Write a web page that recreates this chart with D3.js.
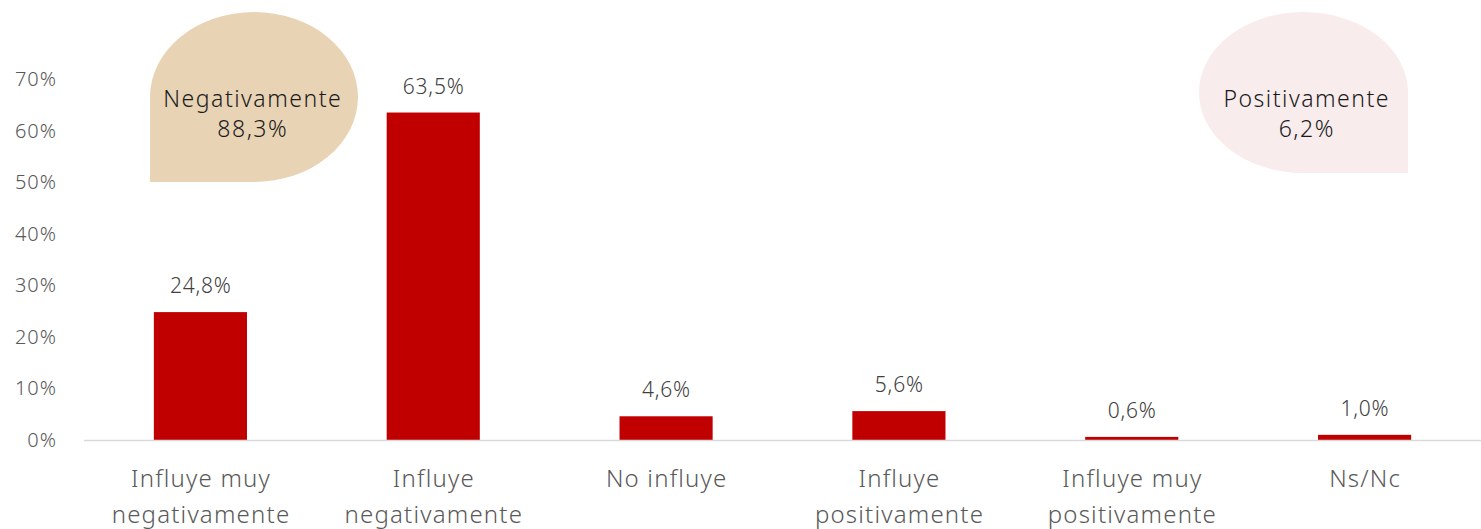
<!DOCTYPE html>
<html><head><meta charset="utf-8">
<script src="https://cdn.jsdelivr.net/npm/d3@7"></script>
<style>body{margin:0;background:#fff}svg{display:block}text{font-family:"Noto Sans",sans-serif;font-weight:300}</style>
</head><body><svg id="c" width="1481" height="529"></svg>
<script>
const categories = [["Influye muy","negativamente"],["Influye","negativamente"],["No influye"],["Influye","positivamente"],["Influye muy","positivamente"],["Ns/Nc"]];
const values = [24.8, 63.5, 4.6, 5.6, 0.6, 1.0];
const valueLabels = ["24,8%","63,5%","4,6%","5,6%","0,6%","1,0%"];
const yTicks = [0,10,20,30,40,50,60,70];
const groupLabels = [["Negativamente","88,3%"],["Positivamente","6,2%"]];

const svg = d3.select("#c");
const x = d3.scaleBand().domain(d3.range(values.length)).range([84,1481]).paddingInner(0.6).paddingOuter(0.3);
const y = d3.scaleLinear().domain([0,70]).range([440,79]);

// y tick labels
svg.append("g").selectAll("text").data(yTicks).join("text")
  .attr("x",57).attr("y",d=>y(d)).attr("dy","0.35em").attr("text-anchor","end")
  .attr("font-size",20).attr("letter-spacing",1).attr("fill","#595959").text(d=>d+"%");

// bars
svg.append("g").selectAll("rect").data(values).join("rect")
  .attr("x",(d,i)=>x(i)).attr("width",x.bandwidth())
  .attr("y",d=>y(d)).attr("height",d=>y(0)-y(d)).attr("fill","#C00000");

// axis line
svg.append("line").attr("x1",84).attr("x2",1481).attr("y1",y(0)+0.5).attr("y2",y(0)+0.5)
  .attr("stroke","#d9d9d9").attr("stroke-width",1.5);

// value labels
svg.append("g").selectAll("text").data(values).join("text")
  .attr("x",(d,i)=>x(i)+x.bandwidth()/2+0.4).attr("y",d=>y(d)-19)
  .attr("text-anchor","middle").attr("font-size",21).attr("letter-spacing",0.8).attr("fill","#404040")
  .text((d,i)=>valueLabels[i]);

// category labels
const cg = svg.append("g").selectAll("text").data(categories).join("text")
  .attr("text-anchor","middle").attr("font-size",24).attr("letter-spacing",1.2).attr("fill","#595959");
cg.each(function(lines,i){
  const t=d3.select(this);
  lines.forEach((l,j)=>t.append("tspan").attr("x",x(i)+x.bandwidth()/2+0.6).attr("y",487+j*36).text(l));
});

// bubbles
function bubble(x0,y0,w,h,squareLeft){
  const rx=w/2, ry=h/2, cx=x0+rx, cy=y0+ry, x1=x0+w, y1=y0+h;
  if(squareLeft){
    return `M${x0},${y1} L${x0},${cy} A${rx},${ry} 0 0 1 ${cx},${y0} A${rx},${ry} 0 0 1 ${x1},${cy} A${rx},${ry} 0 0 1 ${cx},${y1} Z`;
  } else {
    return `M${x1},${y1} L${cx},${y1} A${rx},${ry} 0 0 1 ${x0},${cy} A${rx},${ry} 0 0 1 ${cx},${y0} A${rx},${ry} 0 0 1 ${x1},${cy} Z`;
  }
}
const bubbles = [
  {x0:150,y0:12,w:208,h:170,left:true,fill:"#E8D3B5",cx:252},
  {x0:1199,y0:12,w:209,h:161,left:false,fill:"#F8ECEC",cx:1306}
];
bubbles.forEach((b,i)=>{
  svg.append("path").attr("d",bubble(b.x0,b.y0,b.w,b.h,b.left)).attr("fill",b.fill);
  groupLabels[i].forEach((l,j)=>{
    svg.append("text").attr("x",b.cx+0.75).attr("y",107+j*30).attr("text-anchor","middle")
      .attr("font-size",23).attr("letter-spacing",1.5).attr("fill","#1a1a1a").text(l);
  });
});
</script></body></html>
